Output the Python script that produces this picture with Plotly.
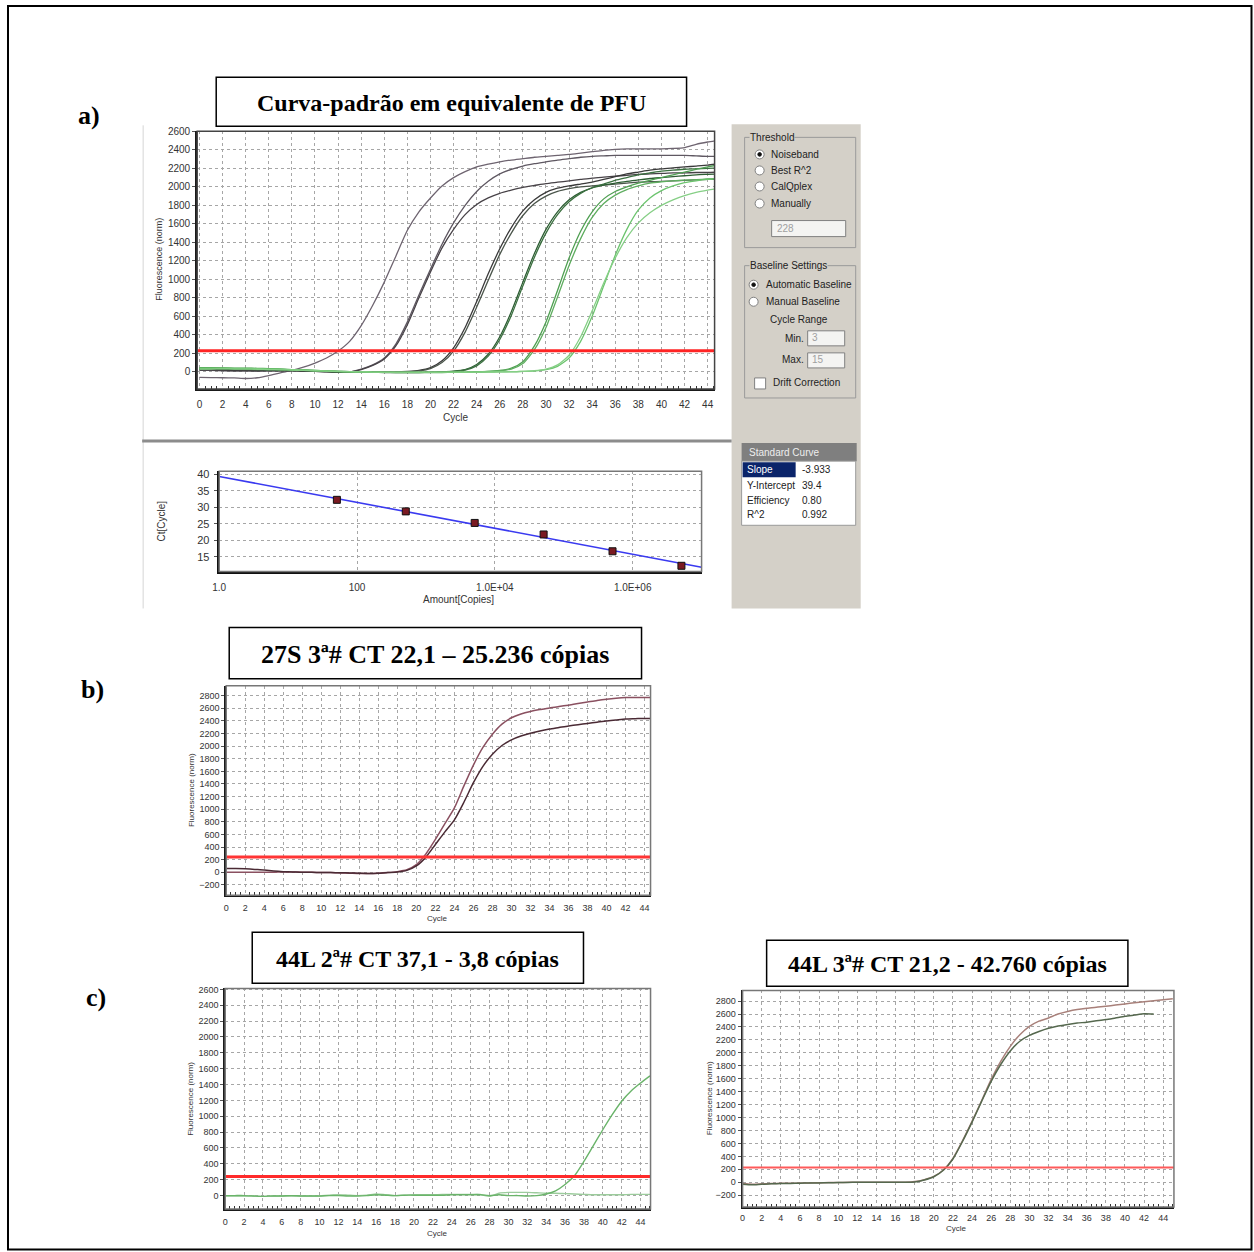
import math
import plotly.graph_objects as go

W, H = 1254, 1252
# the captured page carries an 8px body margin and is rescaled to the window size,
# so positions (measured on the reference picture) are mapped back to figure pixels
SX = W / (W + 8)
SY = H / (H + 8)
OFF = 8


def px(x):
    return ((x - OFF * SX) / SX) / W


def py(y):
    return 1 - ((y - OFF * SY) / SY) / H


# ---------------- data ----------------
cycles = list(range(46))

# a) standard-curve amplification runs (Fluorescence norm.)
a_run_1 = [-60, -62, -64, -66, -72, -64, -40, -10, 15, 50, 95, 150, 225, 330, 500, 720, 970, 1250, 1530, 1730,
           1880, 2010, 2100, 2165, 2215, 2245, 2270, 2290, 2305, 2320, 2330, 2340, 2350, 2365, 2380, 2395, 2405, 2410,
           2410, 2410, 2410, 2415, 2425, 2460, 2485, 2505]
a_run_2 = [15, 15, 12, 10, 10, 10, 12, 15, 20, 15, 10, 5, 0, 0, 30, 75, 150, 300, 540, 830,
           1110, 1380, 1610, 1800, 1950, 2060, 2140, 2190, 2225, 2250, 2270, 2290, 2305, 2320, 2330, 2335, 2340, 2340,
           2340, 2340, 2340, 2340, 2340, 2335, 2330, 2330]
a_run_3 = [20, 18, 15, 12, 10, 8, 10, 12, 15, 12, 8, 3, -2, 0, 25, 70, 140, 280, 510, 800,
           1080, 1340, 1540, 1700, 1810, 1880, 1930, 1965, 1995, 2015, 2035, 2050, 2065, 2080, 2095, 2105, 2115, 2125,
           2135, 2140, 2145, 2150, 2150, 2155, 2155, 2160]
a_run_4 = [30, 30, 25, 20, 20, 15, 15, 12, 10, 5, 5, 0, 0, 0, 0, 0, 0, 0, 5, 15,
           45, 120, 260, 480, 760, 1060, 1330, 1560, 1740, 1860, 1940, 1985, 2010, 2030, 2050, 2080, 2110, 2140,
           2160, 2180, 2195, 2205, 2215, 2225, 2235, 2250]
a_run_5 = [35, 35, 30, 28, 25, 20, 18, 15, 12, 10, 5, 2, 0, -2, -3, -3, -3, -3, 0, 10,
           35, 100, 225, 430, 700, 990, 1270, 1500, 1690, 1820, 1900, 1950, 1980, 2000, 2010, 2020, 2030, 2040,
           2050, 2055, 2060, 2065, 2070, 2075, 2080, 2080]
a_run_6 = [40, 40, 38, 35, 35, 30, 28, 25, 20, 15, 10, 5, 0, 0, -5, -5, -8, -8, -8, -8,
           -5, 0, 8, 25, 80, 190, 380, 650, 970, 1280, 1540, 1730, 1860, 1940, 1990, 2020, 2040, 2060,
           2075, 2090, 2100, 2110, 2120, 2130, 2135, 2140]
a_run_7 = [30, 32, 30, 30, 28, 25, 22, 20, 18, 15, 10, 8, 5, 2, 0, -2, -5, -5, -5, -5,
           -3, 0, 5, 20, 65, 170, 350, 610, 930, 1240, 1500, 1700, 1840, 1930, 1990, 2030, 2070, 2100,
           2130, 2150, 2170, 2180, 2190, 2195, 2200, 2205]
a_run_8 = [45, 45, 42, 40, 40, 38, 35, 30, 25, 20, 15, 10, 5, 0, -3, -5, -5, -8, -8, -8,
           -8, -8, -5, -5, 0, 5, 15, 40, 110, 280, 540, 880, 1230, 1520, 1730, 1870, 1950, 2000,
           2040, 2070, 2100, 2130, 2160, 2190, 2215, 2240]
a_run_9 = [35, 38, 38, 35, 35, 32, 30, 28, 22, 18, 12, 8, 3, 0, -3, -5, -5, -5, -5, -5,
           -5, -5, -3, -3, 0, 5, 12, 30, 90, 240, 480, 810, 1150, 1440, 1670, 1820, 1910, 1970,
           2010, 2040, 2055, 2065, 2072, 2078, 2085, 2090]
a_run_10 = [40, 40, 40, 38, 38, 35, 32, 30, 25, 20, 15, 10, 5, 2, 0, -3, -5, -5, -5, -5,
            -5, -5, -5, -5, -3, -3, 0, 0, 5, 10, 25, 60, 150, 330, 600, 930, 1260, 1540,
            1750, 1880, 1960, 2010, 2045, 2065, 2080, 2090]
a_run_11 = [30, 30, 32, 30, 30, 28, 25, 22, 20, 15, 12, 8, 5, 2, 0, -2, -3, -3, -3, -3,
            -3, -3, -3, -3, -2, 0, 0, 2, 5, 12, 30, 75, 180, 380, 660, 960, 1230, 1450,
            1610, 1720, 1800, 1860, 1905, 1940, 1965, 1985]
a_runs = [a_run_1, a_run_2, a_run_3, a_run_4, a_run_5, a_run_6, a_run_7, a_run_8, a_run_9, a_run_10, a_run_11]
a_colors = ["#6e6470", "#5f5862", "#474247", "#3a3a3a", "#4b554b", "#2e5e34", "#3b7040",
            "#4f9f52", "#5fae60", "#6cc46e", "#86cf86"]
threshold_a = 228

# a) standard curve
std_amount = [51, 510, 5100, 51000, 510000, 5100000]
std_ct = [32.3, 28.8, 25.3, 21.8, 16.7, 12.3]
slope = -3.933
intercept = 39.4
efficiency = 0.80
r_squared = 0.992
fit_amount = [1, 1e7]
fit_ct = [intercept + slope * math.log10(v) for v in fit_amount]

# b) 27S 3a#
b_run_1 = [0, 0, 0, 0, 0, 0, 5, 5, 0, 0, -5, -5, -10, -15, -20, -20, -15, -5, 10, 40,
           120, 290, 520, 770, 1020, 1370, 1700, 1980, 2190, 2350, 2450, 2510, 2550, 2580, 2605, 2630, 2650, 2675,
           2700, 2725, 2745, 2760, 2770, 2770, 2770, 2770]
b_run_2 = [60, 60, 55, 45, 35, 20, 10, 5, 0, 0, -5, -5, -8, -10, -15, -20, -15, -5, 5, 30,
           100, 240, 440, 640, 830, 1110, 1420, 1680, 1870, 2010, 2100, 2160, 2205, 2240, 2270, 2295, 2320, 2340,
           2360, 2380, 2400, 2415, 2430, 2435, 2440, 2440]
threshold_b = 244

# c) 44L 2a#
c1_run_1 = [0, 0, 0, -5, -10, -5, -5, 0, -5, -5, -5, 0, 0, -5, -5, 0, 10, 5, 0, 5,
            5, 5, 5, 5, 10, 10, 10, 10, 0, 10, 0, 0, -5, 0, 20, 60, 140, 250, 430, 630,
            830, 1020, 1190, 1320, 1420, 1510]
c1_run_2 = [-5, -5, -5, -5, -10, -5, -5, -5, -5, -5, -5, 5, 10, 5, 0, 5, 20, 10, 0, 5,
            10, 10, 10, 15, 15, 15, 15, 15, -10, 30, 40, 40, 40, 35, 30, 30, 25, 20, 15, 10,
            10, 10, 10, 15, 15, 15]
threshold_c1 = 240

# c) 44L 3a#
c2_run_1 = [-20, -30, -25, -20, -15, -15, -12, -10, -8, -5, -5, 0, 0, 0, 0, 0, 0, 0, 10, 40,
            90, 190, 370, 640, 940, 1260, 1590, 1870, 2100, 2280, 2410, 2490, 2540, 2600, 2640, 2670, 2690, 2705,
            2720, 2740, 2757, 2775, 2790, 2805, 2820, 2835]
c2_run_2 = [-30, -40, -30, -25, -20, -18, -15, -12, -10, -8, -5, -3, 0, 0, 0, 0, 0, 0, 5, 35,
            85, 185, 360, 630, 930, 1250, 1560, 1820, 2030, 2180, 2270, 2330, 2380, 2415, 2440, 2460, 2475, 2495,
            2515, 2540, 2565, 2585, 2605, 2600, None, None]
threshold_c2 = 228

titles = {
    "a": "Curva-padrão em equivalente de PFU",
    "b": "27S 3ª# CT 22,1 – 25.236 cópias",
    "c1": "44L 2ª# CT 37,1 - 3,8 cópias",
    "c2": "44L 3ª# CT 21,2 - 42.760 cópias",
}

# ---------------- figure ----------------
fig = go.Figure()
SANS = "Liberation Sans"
SERIF = "Liberation Serif"


def add_lines(runs, colors, xa, ya, width):
    for ys, col in zip(runs, colors):
        fig.add_trace(go.Scatter(x=cycles, y=ys, mode="lines", xaxis=xa, yaxis=ya,
                                 line=dict(color=col, width=width, shape="spline", smoothing=0.6),
                                 showlegend=False, hoverinfo="skip", connectgaps=False))


add_lines(a_runs, a_colors, "x", "y", 1.3)
fig.add_trace(go.Scatter(x=fit_amount, y=fit_ct, mode="lines", xaxis="x2", yaxis="y2",
                         line=dict(color="#3a3af0", width=1.6), showlegend=False, hoverinfo="skip"))
fig.add_trace(go.Scatter(x=std_amount, y=std_ct, mode="markers", xaxis="x2", yaxis="y2",
                         marker=dict(symbol="square", size=7, color="#7a1a22", line=dict(color="#111", width=1)),
                         showlegend=False, hoverinfo="skip"))
add_lines([b_run_1, b_run_2], ["#8a5060", "#4a2a34"], "x3", "y3", 1.5)
add_lines([c1_run_2, c1_run_1], ["#9ccc9c", "#6ab46a"], "x4", "y4", 1.4)
add_lines([c2_run_1, c2_run_2], ["#a8807a", "#55684e"], "x5", "y5", 1.5)


def cyc_x(domain, rng, anchor, size, standoff):
    return dict(domain=domain, range=rng, anchor=anchor, tickmode="linear", tick0=0, dtick=2,
                showgrid=True, gridcolor="#a6a6a6", griddash="dot", gridwidth=1,
                zeroline=False, showline=True, linecolor="#1a1a1a", linewidth=2,
                ticks="", ticklen=0, ticklabelstandoff=standoff,
                tickfont=dict(family=SANS, size=size, color="#333"),
                minor=dict(ticks="inside", dtick=0.5, tick0=0, ticklen=3, tickcolor="#333",
                           tickwidth=1, showgrid=False),
                fixedrange=True)


def fl_y(domain, rng, anchor, size):
    return dict(domain=domain, range=rng, anchor=anchor, tickmode="linear", tick0=0, dtick=200,
                showgrid=True, gridcolor="#a6a6a6", griddash="dot", gridwidth=1,
                zeroline=False, showline=True, linecolor="#1a1a1a", linewidth=2,
                ticks="outside", ticklen=3, tickcolor="#555",
                tickfont=dict(family=SANS, size=size, color="#333"), fixedrange=True)


dom_a_x = [px(198), px(715)]
dom_a_y = [py(391), py(134)]
dom_s_x = [px(220), px(702)]
dom_s_y = [py(573), py(473)]
dom_b_x = [px(227), px(651)]
dom_b_y = [py(896), py(687)]
dom_c1_x = [px(226), px(651)]
dom_c1_y = [py(1209), py(989)]
dom_c2_x = [px(743), px(1174)]
dom_c2_y = [py(1207), py(991)]

fig.update_layout(
    width=W, height=H, autosize=False,
    margin=dict(l=0, r=0, t=0, b=0, pad=0),
    paper_bgcolor="white", plot_bgcolor="white",
    showlegend=False,
    xaxis=cyc_x(dom_a_x, [-0.2, 44.6], "y", 10, 5),
    yaxis=fl_y(dom_a_y, [-185, 2600], "x", 10),
    xaxis2=dict(domain=dom_s_x, anchor="y2", type="log", range=[0, 7.0],
                tickvals=[1, 100, 1e4, 1e6], ticktext=["1.0", "100", "1.0E+04", "1.0E+06"],
                showgrid=True, gridcolor="#a6a6a6", griddash="dot", zeroline=False,
                showline=True, linecolor="#111", linewidth=2.5, ticks="", ticklabelstandoff=5,
                tickfont=dict(family=SANS, size=10, color="#333"), fixedrange=True),
    yaxis2=dict(domain=dom_s_y, anchor="x2", range=[10.6, 41.0], tickvals=[15, 20, 25, 30, 35, 40],
                showgrid=True, gridcolor="#a6a6a6", griddash="dot", zeroline=False,
                showline=True, linecolor="#111", linewidth=2.5, ticks="outside", ticklen=3, tickcolor="#555",
                ticklabelstandoff=2,
                tickfont=dict(family=SANS, size=11, color="#333"), fixedrange=True),
    xaxis3=cyc_x(dom_b_x, [0, 44.63], "y3", 9, 3),
    yaxis3=fl_y(dom_b_y, [-363, 2959], "x3", 9),
    xaxis4=cyc_x(dom_c1_x, [0, 45.06], "y4", 9, 3),
    yaxis4=fl_y(dom_c1_y, [-168, 2613], "x4", 9),
    xaxis5=cyc_x(dom_c2_x, [0, 45.12], "y5", 9, 1),
    yaxis5=fl_y(dom_c2_y, [-381, 2966], "x5", 9),
)

shapes = []
annots = []


def rect(x0, y0, x1, y1, fill=None, line="#000", width=1, layer="below"):
    d = dict(type="rect", xref="paper", yref="paper", x0=px(x0), x1=px(x1), y0=py(y1), y1=py(y0),
             line=dict(color=line, width=width), layer=layer)
    if fill:
        d["fillcolor"] = fill
    if width == 0:
        d["line"] = dict(width=0)
    shapes.append(d)


def hline(x0, x1, y, color, width):
    shapes.append(dict(type="line", xref="paper", yref="paper", x0=px(x0), x1=px(x1), y0=py(y), y1=py(y),
                       line=dict(color=color, width=width)))


def vline(x, y0, y1, color, width):
    shapes.append(dict(type="line", xref="paper", yref="paper", x0=px(x), x1=px(x), y0=py(y0), y1=py(y1),
                       line=dict(color=color, width=width)))


def txt(x, y, s, size=10, color="#222", xanchor="left", family=SANS, bold=False, bg=None, angle=0):
    d = dict(x=px(x), y=py(y), xref="paper", yref="paper", text=("<b>%s</b>" % s) if bold else s,
             showarrow=False, xanchor=xanchor, yanchor="middle", textangle=angle,
             font=dict(family=family, size=size, color=color))
    if bg:
        d["bgcolor"] = bg
        d["borderpad"] = 0
    annots.append(d)


def circle(cx, cy, r, fill, line):
    shapes.append(dict(type="circle", xref="paper", yref="paper", x0=px(cx - r), x1=px(cx + r),
                       y0=py(cy + r), y1=py(cy - r), fillcolor=fill, line=dict(color=line, width=1),
                       layer="above"))


# outer border (as close to the page edge as the capture allows)
shapes.append(dict(type="rect", xref="paper", yref="paper", x0=0.0008, x1=px(1251.5), y0=py(1249.5),
                   y1=0.9992, line=dict(color="#000", width=2), layer="above"))

# faint screenshot edges
vline(144, 128, 610, "#d6d6d6", 1)
hline(143, 732, 443, "#8c8c8c", 3)

# threshold lines and frames of the plot areas
for xa, ya, thr, col, w in [("x", "y", threshold_a, "#ff2424", 3), ("x3", "y3", threshold_b, "#ff3434", 3),
                            ("x4", "y4", threshold_c1, "#ff2a2a", 3), ("x5", "y5", threshold_c2, "#ff5a5a", 2)]:
    shapes.append(dict(type="line", xref=xa + " domain", yref=ya, x0=0, x1=1, y0=thr, y1=thr,
                       line=dict(color=col, width=w), layer="above"))
for xa, ya, col in [("x", "y", "#444"), ("x2", "y2", "#777"), ("x3", "y3", "#777"),
                    ("x4", "y4", "#777"), ("x5", "y5", "#777")]:
    shapes.append(dict(type="rect", xref=xa + " domain", yref=ya + " domain", x0=0, x1=1, y0=0, y1=1,
                       line=dict(color=col, width=1.5), layer="above"))

# axis titles
txt(456, 419, "Cycle", size=10, color="#333", xanchor="center")
txt(159, 262, "Fluorescence (norm)", size=9, color="#333", xanchor="center", angle=-90)
txt(162, 523, "Ct[Cycle]", size=10, color="#333", xanchor="center", angle=-90)
txt(459, 601, "Amount[Copies]", size=10, color="#333", xanchor="center")
txt(438, 919, "Cycle", size=8, color="#333", xanchor="center")
txt(193, 791, "Fluorescence (norm)", size=8, color="#333", xanchor="center", angle=-90)
txt(438, 1234, "Cycle", size=8, color="#333", xanchor="center")
txt(191, 1099, "Fluorescence (norm)", size=8, color="#333", xanchor="center", angle=-90)
txt(957, 1229, "Cycle", size=8, color="#333", xanchor="center")
txt(710, 1099, "Fluorescence (norm)", size=8, color="#333", xanchor="center", angle=-90)

# title boxes
for (x0, y0, x1, y1), key, fs in [((217, 80, 687, 129), "a", 24), ((230, 629, 642, 680), "b", 26),
                                  ((253, 933, 584, 984), "c1", 24), ((767, 941, 1128, 987), "c2", 24)]:
    rect(x0, y0, x1, y1, fill="white", line="#000", width=1.5, layer="above")
    txt((x0 + x1) / 2, (y0 + y1) / 2 + 1, titles[key], size=fs, color="#000", xanchor="center",
        family=SERIF, bold=True)

txt(77, 118, "a)", size=26, color="#000", family=SERIF, bold=True)
txt(80, 691, "b)", size=26, color="#000", family=SERIF, bold=True)
txt(85, 998, "c)", size=26, color="#000", family=SERIF, bold=True)

# ---- software side panel ----
PANEL = "#d4d0c8"
rect(732, 127, 861, 610, fill=PANEL, width=0)
# Threshold group
rect(745, 140, 856, 250, line="#9a9a9a", width=1, layer="above")
txt(749, 140, "Threshold", size=10, bg=PANEL)
for yy, lab, sel in [(157, "Noiseband", True), (173, "Best R^2", False), (189, "CalQplex", False),
                     (206, "Manually", False)]:
    circle(760, yy, 4.5, "white", "#808080")
    if sel:
        circle(760, yy, 1.8, "#111", "#111")
    txt(769, yy, lab, size=10)
rect(772, 223, 846, 239, fill="#f4f4f2", line="#808080", width=1, layer="above")
txt(775, 231, "228", size=10, color="#a0a0a0")
# Baseline group
rect(745, 268, 856, 400, line="#9a9a9a", width=1, layer="above")
txt(749, 268, "Baseline Settings", size=10, bg=PANEL)
for yy, lab, sel in [(287, "Automatic Baseline", True), (304, "Manual Baseline", False)]:
    circle(754, yy, 4.5, "white", "#808080")
    if sel:
        circle(754, yy, 1.8, "#111", "#111")
    txt(764, yy, lab, size=10)
txt(768, 322, "Cycle Range", size=10)
txt(806, 341, "Min.", size=10, xanchor="right")
rect(808, 333, 845, 348, fill="#f4f4f2", line="#808080", width=1, layer="above")
txt(810, 340, "3", size=10, color="#a0a0a0")
txt(806, 362, "Max.", size=10, xanchor="right")
rect(808, 355, 845, 370, fill="#f4f4f2", line="#808080", width=1, layer="above")
txt(810, 362, "15", size=10, color="#a0a0a0")
rect(755, 380, 766, 391, fill="white", line="#808080", width=1, layer="above")
txt(771, 385, "Drift Correction", size=10)

# Standard curve table
rect(742, 445, 857, 463, fill="#7f7f7f", width=0)
txt(747, 454, "Standard Curve", size=10, color="#eeeeee")
rect(742, 463, 856, 527, fill="white", line="#9a9a9a", width=1)
rect(743, 464, 796, 479, fill="#0a246a", width=0)
txt(745, 471.5, "Slope", size=10, color="white")
txt(800, 471.5, "%.3f" % slope, size=10)
txt(745, 487.5, "Y-Intercept", size=10)
txt(800, 487.5, "%.1f" % intercept, size=10)
txt(745, 502, "Efficiency", size=10)
txt(800, 502, "%.2f" % efficiency, size=10)
txt(745, 516, "R^2", size=10)
txt(800, 516, "%.3f" % r_squared, size=10)

fig.update_layout(shapes=shapes, annotations=annots)
fig.write_html("out.html", config={"displayModeBar": False, "staticPlot": True})
